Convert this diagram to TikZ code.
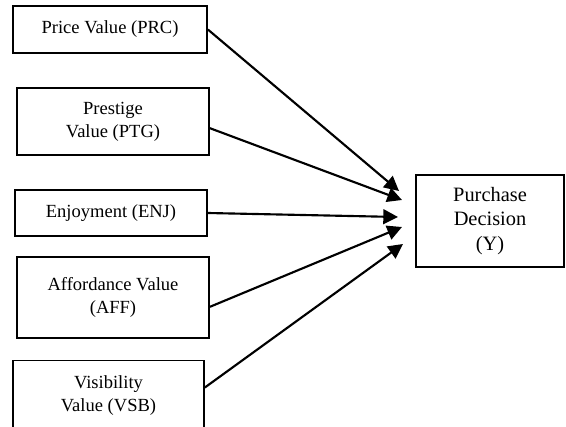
\documentclass[tikz,border=0pt]{standalone}
\usepackage{fontspec}
\setmainfont{Liberation Serif}
\usetikzlibrary{arrows.meta}

\tikzset{
  varbox/.style={draw, line width=1.3pt, align=center, inner sep=0pt,
    font=\fontsize{13.9}{17.3}\selectfont},
  effect/.style={line width=1.6pt, -{Triangle[length=11pt,width=11pt]}}
}

\begin{document}
\begin{tikzpicture}[x=0.75pt,y=-0.75pt]
				\useasboundingbox (0,0) rectangle (566,427);
				\node [varbox, minimum width=145.5pt, minimum height=35.25pt] (prc) at (110,29.5) {Price Value (PRC)};
				\node [varbox, minimum width=144pt, minimum height=50.25pt] (ptg) at (113,121.5) {Prestige\\Value (PTG)};
				\node [varbox, minimum width=144pt, minimum height=34.5pt] (enj) at (111,213) {Enjoyment (ENJ)};
				\node [varbox, minimum width=144pt, minimum height=60.75pt] (aff) at (113,297.5) {Affordance Value\\(AFF)};
				\node [varbox, minimum width=143.25pt, minimum height=52.5pt] (vsb) at (108.5,395.5) {Visibility\\Value (VSB)};
				\node [varbox, font=\fontsize{15.3}{18.3}\selectfont, minimum width=111pt, minimum height=69pt] (y) at (490,221) {Purchase\\Decision\\(Y)};
				\coordinate (t1) at (399,191);
				\coordinate (t2) at (402,200);
				\coordinate (t3) at (398,217);
				\coordinate (t4) at (402,227);
				\coordinate (t5) at (403,244);
				\draw [effect] (prc.east) -- (t1);
				\draw [effect] ([yshift=-5pt]ptg.east) -- (t2);
				\draw [effect] (enj.east) -- (t3);
				\draw [effect] ([yshift=-7pt]aff.east) -- (t4);
				\draw [effect] ([yshift=6pt]vsb.east) -- (t5);
				\end{tikzpicture}
\end{document}
